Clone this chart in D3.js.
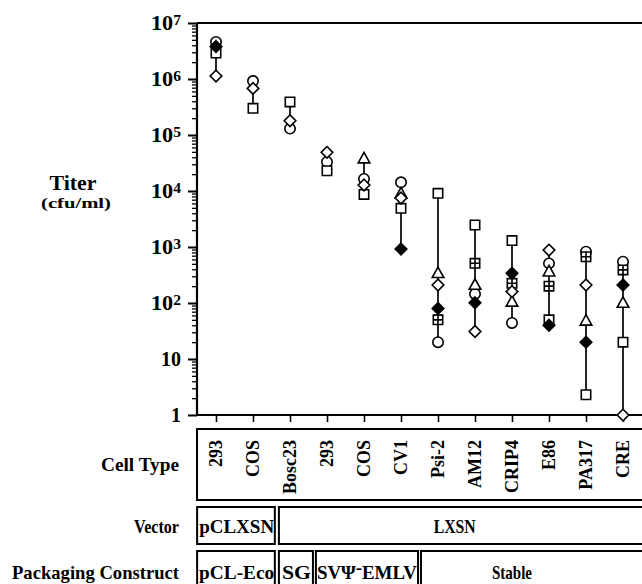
<!DOCTYPE html>
<html>
<head>
<meta charset="utf-8">
<script src="https://cdn.jsdelivr.net/npm/d3@7"></script>
<style>
  body { margin: 0; background: #fff; }
  text { font-family: "Liberation Serif", "Times New Roman", serif; font-weight: bold; fill: #000; }
</style>
</head>
<body>
<svg id="chart" width="642" height="584"></svg>
<script>
// cell types along the x axis
var cellTypes = ["293", "COS", "Bosc23", "293", "COS", "CV1", "Psi-2", "AM12", "CRIP4", "E86", "PA317", "CRE"];

// titers (cfu/ml), one value per cell type, null = not measured
var circles       = [4.6e6, 9.2e5, 1.3e5, 3.3e4, 1.64e4, 1.43e4, 20, 145, 44, 510, 824, 547];
var squares       = [2.9e6, 3.0e5, 3.9e5, 2.3e4, 8.7e3, 4.9e3, 9100, 2470, 1300, 50, 2.3, 20];
var diamonds      = [1.13e6, 6.8e5, 1.8e5, 4.9e4, 1.28e4, 7.5e3, 210, 31, 160, 880, 210, 1];
var triangles     = [null, null, null, null, 3.8e4, 9e3, 340, 210, 105, 363, 48, 100];
var crossSquares  = [null, null, null, null, null, null, 50, 512, 225, 200, 670, 390];
var filledDiamonds = [3.8e6, null, null, null, null, 920, 80, 101, 340, 40, 20, 210];

var yTicks = [1, 10, 100, 1000, 1e4, 1e5, 1e6, 1e7];
var yTickLabels = [["1", ""], ["10", ""], ["10", "2"], ["10", "3"], ["10", "4"], ["10", "5"], ["10", "6"], ["10", "7"]];

var vectorLabels = ["pCLXSN", "LXSN"];
var packagingLabels = ["pCL-Eco", "SG", "SV\u03A8-EMLV", "Stable"];

// box layout in category-index units
var vectorBoxes = [[-0.51, 1.59], [1.70, 12]];
var packagingBoxes = [[-0.51, 1.59], [1.70, 2.62], [2.70, 5.46], [5.54, 12]];

var width = 642, height = 584;
var svg = d3.select("#chart");

var x = d3.scaleLinear()
    .domain([0, 11])
    .range([216, 623]);

var y = d3.scaleLog()
    .domain([1, 1e7])
    .range([415, 23]);

var left = 197, right = 700;

// minor ticks
var minor = [];
yTicks.slice(0, -1).forEach(function(d) {
  for (var k = 2; k <= 9; k++) minor.push(d * k);
});

svg.append("g")
    .attr("transform", "translate(" + left + ",0)")
    .call(d3.axisLeft(y).tickValues(minor).tickSize(5).tickFormat(""))
    .call(function(g) { g.select(".domain").remove(); })
    .selectAll("line").attr("stroke-width", 1.3);

svg.append("g")
    .attr("transform", "translate(" + left + ",0)")
    .call(d3.axisLeft(y).tickValues(yTicks).tickSize(9).tickFormat(""))
    .call(function(g) { g.select(".domain").remove(); })
    .selectAll("line").attr("stroke-width", 2);

// frame lines
svg.append("line")
    .attr("x1", left).attr("x2", left)
    .attr("y1", y(1e7)).attr("y2", y(1))
    .attr("stroke", "#000").attr("stroke-width", 2.2);
svg.append("line")
    .attr("x1", left).attr("x2", right)
    .attr("y1", y(1e7)).attr("y2", y(1e7))
    .attr("stroke", "#000").attr("stroke-width", 2);
svg.append("line")
    .attr("x1", left).attr("x2", right)
    .attr("y1", y(1)).attr("y2", y(1))
    .attr("stroke", "#000").attr("stroke-width", 2);

// x ticks
svg.append("g")
    .attr("transform", "translate(0," + y(1) + ")")
    .call(d3.axisBottom(x).tickValues(d3.range(cellTypes.length)).tickSize(7).tickFormat(""))
    .call(function(g) { g.select(".domain").remove(); })
    .selectAll("line").attr("stroke-width", 1.6);

// y tick labels
var yl = svg.append("g").selectAll("text")
    .data(yTicks)
    .enter().append("text")
    .attr("x", 181)
    .attr("y", function(d) { return y(d); })
    .attr("dy", "0.36em")
    .attr("text-anchor", "end")
    .style("font-size", "20px");
yl.filter(function(d, i) { return yTickLabels[i][1] !== ""; })
    .attr("textLength", 30)
    .attr("lengthAdjust", "spacingAndGlyphs");
yl.append("tspan").text(function(d, i) { return yTickLabels[i][0]; });
yl.append("tspan")
    .attr("dy", "-0.4em")
    .style("font-size", "14px")
    .text(function(d, i) { return yTickLabels[i][1]; });

// axis title
svg.append("text")
    .attr("x", 73).attr("y", 190)
    .attr("text-anchor", "middle")
    .attr("textLength", 47).attr("lengthAdjust", "spacingAndGlyphs")
    .style("font-size", "20px")
    .text("Titer");
svg.append("text")
    .attr("x", 76).attr("y", 208)
    .attr("text-anchor", "middle")
    .attr("textLength", 70).attr("lengthAdjust", "spacingAndGlyphs")
    .style("font-size", "15px")
    .text("(cfu/ml)");

// range lines
var allSeries = [circles, squares, diamonds, triangles, crossSquares, filledDiamonds];
var ranges = cellTypes.map(function(c, i) {
  var vals = allSeries.map(function(s) { return s[i]; }).filter(function(v) { return v != null; });
  return { i: i, min: d3.min(vals), max: d3.max(vals) };
});

svg.append("g").selectAll("line")
    .data(ranges)
    .enter().append("line")
    .attr("x1", function(d) { return x(d.i); })
    .attr("x2", function(d) { return x(d.i); })
    .attr("y1", function(d) { return y(d.min); })
    .attr("y2", function(d) { return y(d.max); })
    .attr("stroke", "#000")
    .attr("stroke-width", 1.7);

// marker shapes
var shapes = {
  circle: "M5.2,0A5.2,5.2 0 1,1 -5.2,0A5.2,5.2 0 1,1 5.2,0Z",
  square: "M-4.7,-4.7H4.7V4.7H-4.7Z",
  diamond: "M0,-5.8L5.8,0L0,5.8L-5.8,0Z",
  triangle: "M0,-6.2L5.8,4.3H-5.8Z",
  cross: "M-4.7,-4.7H4.7V4.7H-4.7Z M0,-4.7V4.7 M-4.7,0H4.7"
};

var markerSets = [
  { values: circles, shape: "circle", fill: "#fff" },
  { values: squares, shape: "square", fill: "#fff" },
  { values: triangles, shape: "triangle", fill: "#fff" },
  { values: crossSquares, shape: "cross", fill: "#fff" },
  { values: diamonds, shape: "diamond", fill: "#fff" },
  { values: filledDiamonds, shape: "diamond", fill: "#000" }
];

markerSets.forEach(function(s) {
  var pts = s.values.map(function(v, i) { return { i: i, v: v }; })
      .filter(function(d) { return d.v != null; });
  svg.append("g").selectAll("path")
      .data(pts)
      .enter().append("path")
      .attr("transform", function(d) { return "translate(" + x(d.i) + "," + y(d.v) + ")"; })
      .attr("d", shapes[s.shape])
      .attr("fill", s.fill)
      .attr("stroke", "#000")
      .attr("stroke-width", 1.6);
});

// table rows
var rowCell = { top: 429, h: 71 },
    rowVector = { top: 507, h: 37 },
    rowPack = { top: 551, h: 50 };

function boxEdge(v) { return x(0) + v * (x(1) - x(0)); }

svg.append("rect")
    .attr("x", left).attr("y", rowCell.top)
    .attr("width", right - left).attr("height", rowCell.h)
    .attr("fill", "none").attr("stroke", "#000").attr("stroke-width", 2);

svg.append("g").selectAll("text")
    .data(cellTypes)
    .enter().append("text")
    .attr("transform", function(d, i) { return "translate(" + x(i) + ",440) rotate(-90)"; })
    .attr("dy", "0.36em")
    .attr("text-anchor", "end")
    .style("font-size", "18px")
    .text(function(d) { return d; });

svg.append("g").selectAll("rect")
    .data(vectorBoxes)
    .enter().append("rect")
    .attr("x", function(d) { return boxEdge(d[0]); })
    .attr("y", rowVector.top)
    .attr("width", function(d) { return boxEdge(d[1]) - boxEdge(d[0]); })
    .attr("height", rowVector.h)
    .attr("fill", "none").attr("stroke", "#000").attr("stroke-width", 2);

svg.append("g").selectAll("rect")
    .data(packagingBoxes)
    .enter().append("rect")
    .attr("x", function(d) { return boxEdge(d[0]); })
    .attr("y", rowPack.top)
    .attr("width", function(d) { return boxEdge(d[1]) - boxEdge(d[0]); })
    .attr("height", rowPack.h)
    .attr("fill", "none").attr("stroke", "#000").attr("stroke-width", 2);

// box labels
svg.append("text")
    .attr("x", boxEdge(vectorBoxes[0][0]) + 2).attr("y", 533)
    .attr("textLength", 75).attr("lengthAdjust", "spacingAndGlyphs")
    .style("font-size", "19px")
    .text(vectorLabels[0]);
svg.append("text")
    .attr("x", x(6.45)).attr("y", 533)
    .attr("text-anchor", "middle")
    .attr("textLength", 42).attr("lengthAdjust", "spacingAndGlyphs")
    .style("font-size", "19px")
    .text(vectorLabels[1]);

svg.append("text")
    .attr("x", boxEdge(packagingBoxes[0][0]) + 2).attr("y", 579)
    .attr("textLength", 75).attr("lengthAdjust", "spacingAndGlyphs")
    .style("font-size", "19px")
    .text(packagingLabels[0]);
svg.append("text")
    .attr("x", boxEdge(packagingBoxes[1][0]) + 3).attr("y", 579)
    .attr("textLength", 29).attr("lengthAdjust", "spacingAndGlyphs")
    .style("font-size", "19px")
    .text(packagingLabels[1]);
var sv = svg.append("text")
    .attr("x", boxEdge(packagingBoxes[2][0]) + 1).attr("y", 579)
    .attr("textLength", 100).attr("lengthAdjust", "spacingAndGlyphs")
    .style("font-size", "19px");
sv.append("tspan").text("SV\u03A8");
sv.append("tspan").attr("dy", "-5").text("-");
sv.append("tspan").attr("dy", "5").text("EMLV");
svg.append("text")
    .attr("x", x(8)).attr("y", 579)
    .attr("text-anchor", "middle")
    .attr("textLength", 40).attr("lengthAdjust", "spacingAndGlyphs")
    .style("font-size", "19px")
    .text(packagingLabels[3]);

// row titles
var rowTitles = [["Cell Type", 471, 78], ["Vector", 533, 45], ["Packaging Construct", 579, 167]];
svg.append("g").selectAll("text")
    .data(rowTitles)
    .enter().append("text")
    .attr("x", 179)
    .attr("y", function(d) { return d[1]; })
    .attr("text-anchor", "end")
    .attr("textLength", function(d) { return d[2]; })
    .attr("lengthAdjust", "spacingAndGlyphs")
    .style("font-size", "19px")
    .text(function(d) { return d[0]; });
</script>
</body>
</html>
